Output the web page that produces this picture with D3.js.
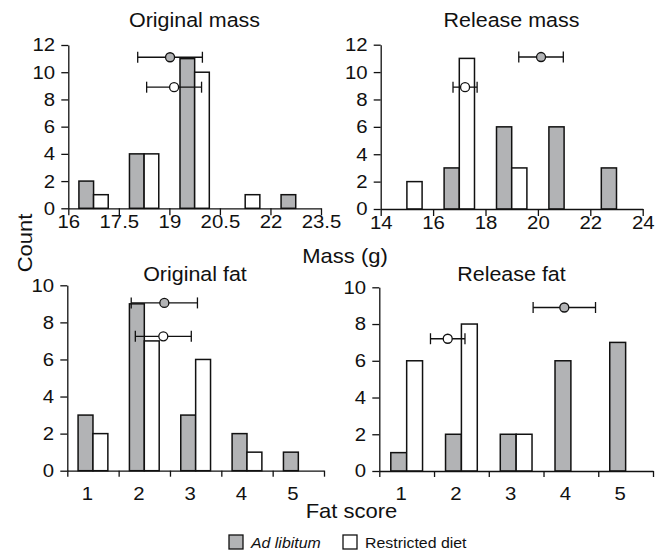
<!DOCTYPE html>
<html>
<head>
<meta charset="utf-8">
<script src="https://cdn.jsdelivr.net/npm/d3@7"></script>
<style>
  body { margin: 0; background: #fff; }
  svg { display: block; font-family: "Liberation Sans", Arial, Helvetica, sans-serif; }
  .axis path, .axis line { stroke: #111; stroke-width: 1.3; }
  .axis text { fill: #111; }
</style>
</head>
<body>
<svg id="chart"></svg>
<script>
const width = 664;
const height = 550;

// bin centres and counts
const massOrigBins = [16.75, 18.25, 19.75, 21.25, 22.75];
const massOrigAdLib = [2, 4, 11, 0, 1];
const massOrigRestr = [1, 4, 10, 1, 0];

const massRelBins = [15, 17, 19, 21, 23];
const massRelAdLib = [0, 3, 6, 6, 3];
const massRelRestr = [2, 11, 3, 0, 0];

const fatScores = [1, 2, 3, 4, 5];
const fatOrigAdLib = [3, 9, 3, 2, 1];
const fatOrigRestr = [2, 7, 6, 1, 0];
const fatRelAdLib = [1, 2, 2, 6, 7];
const fatRelRestr = [6, 8, 2, 0, 0];

// means with error bars, per panel: orig mass, release mass, orig fat, release fat
const meanAdLib = [19.02, 20.12, 2.39, 3.88];
const errAdLib = [0.96, 0.85, 0.645, 0.57];
const markerYAdLib = [11.1, 11.1, 9.05, 8.9];
const meanRestr = [19.14, 17.22, 2.37, 1.75];
const errRestr = [0.815, 0.46, 0.545, 0.315];
const markerYRestr = [8.9, 8.9, 7.25, 7.2];

const massOrigTicks = [16, 17.5, 19, 20.5, 22, 23.5];
const massRelTicks = [14, 16, 18, 20, 22, 24];
const fatTicks = [0.5, 1.5, 2.5, 3.5, 4.5, 5.5];
const massYTicks = [0, 2, 4, 6, 8, 10, 12];
const fatYTicks = [0, 2, 4, 6, 8, 10];

const gray = "#b2b3b5";
const ink = "#111";
const sx = "scale(1.1,1)";

const svg = d3.select("#chart")
  .attr("width", width)
  .attr("height", height);

svg.append("rect").attr("width", width).attr("height", height).attr("fill", "#fff");

const panels = [
  { title: "Original mass", bins: massOrigBins, adlib: massOrigAdLib, restr: massOrigRestr,
    xDomain: [16, 23.5], xRange: [68.3, 321], yDomain: [0, 12], yRange: [208.3, 45],
    xTicks: massOrigTicks, yTicks: massYTicks, step: 1.5, titleX: 194.5, titleY: 27, kind: "mass" },
  { title: "Release mass", bins: massRelBins, adlib: massRelAdLib, restr: massRelRestr,
    xDomain: [14, 24], xRange: [380.7, 642.7], yDomain: [0, 12], yRange: [209, 44.7],
    xTicks: massRelTicks, yTicks: massYTicks, step: 2, titleX: 511.5, titleY: 27, kind: "mass" },
  { title: "Original fat", bins: fatScores, adlib: fatOrigAdLib, restr: fatOrigRestr,
    xDomain: [0.5, 5.5], xRange: [67.3, 324], yDomain: [0, 10], yRange: [470.7, 285.3],
    xTicks: fatTicks, yTicks: fatYTicks, step: 1, titleX: 195, titleY: 281, kind: "fat" },
  { title: "Release fat", bins: fatScores, adlib: fatRelAdLib, restr: fatRelRestr,
    xDomain: [0.5, 5.5], xRange: [379.3, 653], yDomain: [0, 10], yRange: [471, 287.3],
    xTicks: fatTicks, yTicks: fatYTicks, step: 1, titleX: 511.5, titleY: 281, kind: "fat" }
];

panels.forEach((p, i) => {
  const x = d3.scaleLinear().domain(p.xDomain).range(p.xRange);
  const y = d3.scaleLinear().domain(p.yDomain).range(p.yRange);
  const g = svg.append("g");
  const bw = p.step * 0.29;

  // bars: ad libitum on the left of the bin centre, restricted on the right
  const bars = [];
  p.bins.forEach((c, j) => {
    if (p.adlib[j] > 0) bars.push({ x0: c - bw, x1: c, v: p.adlib[j], fill: gray });
    if (p.restr[j] > 0) bars.push({ x0: c, x1: c + bw, v: p.restr[j], fill: "#fff" });
  });

  g.selectAll("rect.bar")
    .data(bars)
    .join("rect")
    .attr("class", "bar")
    .attr("x", d => x(d.x0))
    .attr("width", d => x(d.x1) - x(d.x0))
    .attr("y", d => y(d.v))
    .attr("height", d => y(0) - y(d.v))
    .attr("fill", d => d.fill)
    .attr("stroke", ink)
    .attr("stroke-width", 1.5);

  // axes
  const yAxis = g.append("g")
    .attr("class", "axis")
    .attr("transform", `translate(${p.xRange[0]},0)`)
    .call(d3.axisLeft(y).tickValues(p.yTicks).tickSize(7).tickSizeOuter(0).tickPadding(5));
  yAxis.selectAll("text").attr("font-size", 18.5).attr("transform", sx);

  const xAxis = g.append("g")
    .attr("class", "axis")
    .attr("transform", `translate(0,${p.yRange[0]})`);

  if (p.kind === "mass") {
    xAxis.call(d3.axisBottom(x).tickValues(p.xTicks).tickSize(7).tickSizeOuter(0).tickPadding(0)
      .tickFormat(d3.format("")));
    xAxis.selectAll("text").attr("font-size", 18.5).attr("transform", sx);
  } else {
    xAxis.call(d3.axisBottom(x).tickValues(p.xTicks).tickSize(6).tickSizeOuter(0).tickFormat(""));
    const lab = g.append("g")
      .attr("class", "axis")
      .attr("transform", `translate(0,${p.yRange[0]})`)
      .call(d3.axisBottom(x).tickValues(fatScores).tickSize(0).tickPadding(16)
        .tickFormat(d3.format("d")));
    lab.select(".domain").remove();
    lab.selectAll("text").attr("font-size", 18.5).attr("transform", "translate(-6,0) " + sx);
  }

  // error bars
  const markers = [
    { m: meanAdLib[i], e: errAdLib[i], v: markerYAdLib[i], fill: gray },
    { m: meanRestr[i], e: errRestr[i], v: markerYRestr[i], fill: "#fff" }
  ];
  const mk = g.selectAll("g.marker")
    .data(markers)
    .join("g")
    .attr("class", "marker");
  mk.append("line")
    .attr("x1", d => x(d.m - d.e)).attr("x2", d => x(d.m + d.e))
    .attr("y1", d => y(d.v)).attr("y2", d => y(d.v))
    .attr("stroke", ink).attr("stroke-width", 1.3);
  [-1, 1].forEach(s => {
    mk.append("line")
      .attr("x1", d => x(d.m + s * d.e)).attr("x2", d => x(d.m + s * d.e))
      .attr("y1", d => y(d.v) - 5.5).attr("y2", d => y(d.v) + 5.5)
      .attr("stroke", ink).attr("stroke-width", 1.3);
  });
  mk.append("circle")
    .attr("cx", d => x(d.m)).attr("cy", d => y(d.v))
    .attr("r", 4.5)
    .attr("fill", d => d.fill)
    .attr("stroke", ink).attr("stroke-width", 1.3);

  // title
  svg.append("text")
    .attr("transform", `translate(${p.titleX},${p.titleY}) ${sx}`)
    .attr("text-anchor", "middle")
    .attr("font-size", 19.5)
    .attr("fill", ink)
    .text(p.title);
});

// shared axis labels
svg.append("text")
  .attr("transform", `translate(345,263) ${sx}`)
  .attr("text-anchor", "middle")
  .attr("font-size", 20)
  .attr("fill", ink)
  .text("Mass (g)");

svg.append("text")
  .attr("transform", `translate(351.5,518) ${sx}`)
  .attr("text-anchor", "middle")
  .attr("font-size", 20)
  .attr("fill", ink)
  .text("Fat score");

svg.append("text")
  .attr("transform", `translate(32,243) rotate(-90) ${sx}`)
  .attr("text-anchor", "middle")
  .attr("font-size", 20)
  .attr("fill", ink)
  .text("Count");

// legend
const legendItems = [
  { label: "Ad libitum", fill: gray, italic: true, x: 229 },
  { label: "Restricted diet", fill: "#fff", italic: false, x: 343 }
];
const leg = svg.selectAll("g.legend")
  .data(legendItems)
  .join("g")
  .attr("class", "legend")
  .attr("transform", d => `translate(${d.x},535)`);
leg.append("rect")
  .attr("width", 14).attr("height", 14)
  .attr("fill", d => d.fill)
  .attr("stroke", ink).attr("stroke-width", 1.3);
leg.append("text")
  .attr("transform", "translate(22,12.5) scale(1.06,1)")
  .attr("font-size", 15)
  .attr("font-style", d => d.italic ? "italic" : "normal")
  .attr("fill", ink)
  .text(d => d.label);
</script>
</body>
</html>
